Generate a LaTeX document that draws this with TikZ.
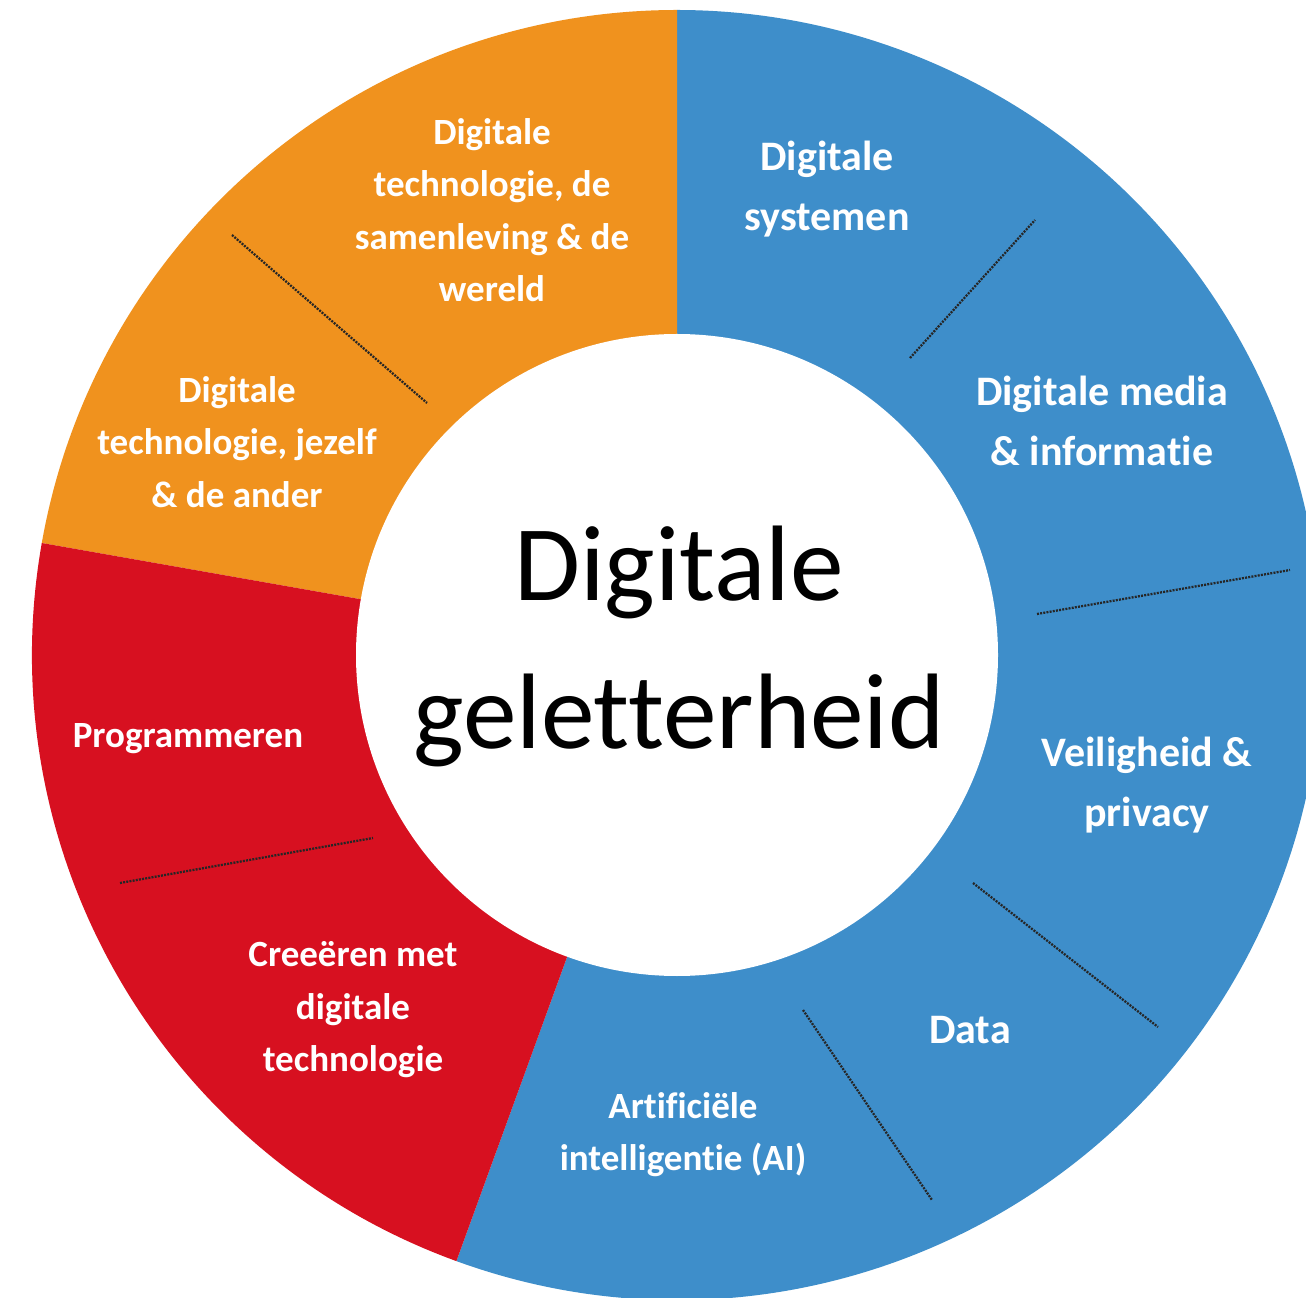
\documentclass[tikz,border=0pt]{standalone}
\usepackage{fontspec}
\setmainfont{Carlito}[Ligatures=NoCommon]
\definecolor{segorange}{RGB}{240,146,30}
\definecolor{segblue}{RGB}{62,142,202}
\definecolor{segred}{RGB}{215,16,32}
\begin{document}
\begin{tikzpicture}[x=0.75pt,y=0.75pt,
  lab/.style={text=white,font=\bfseries\fontsize{27.75}{39.4}\selectfont,align=center,inner sep=0pt},
  labbig/.style={text=white,font=\bfseries\fontsize{31.5}{45}\selectfont,align=center,inner sep=0pt},
  divider/.style={draw=black!85,line width=1.7pt,dash pattern=on 1.5pt off 0.9pt},
  hubtext/.style={text=black,font=\fontsize{80.5}{111}\selectfont,align=center,inner sep=0pt}]
\useasboundingbox (0,0) rectangle (1306,1297);
\clip (0,0) rectangle (1306,1297);
\fill[white] (0,0) rectangle (1306,1297);
\coordinate (C) at (677,642);
% segments
\fill[segblue] (C) -- ++(-110:645) arc[start angle=-110,end angle=90,radius=645] -- cycle;
\fill[segorange] (C) -- ++(90:645) arc[start angle=90,end angle=170,radius=645] -- cycle;
\fill[segred] (C) -- ++(170:645) arc[start angle=170,end angle=250,radius=645] -- cycle;
% inner hub
\fill[white] (C) circle[radius=321];
\node[hubtext] (hub) at (679,651) {Digitale\\geletterheid};
% dividers
\coordinate (d1a) at (910,939);  \coordinate (d1b) at (1035,1077);
\coordinate (d2a) at (1037,683); \coordinate (d2b) at (1290,727);
\coordinate (d3a) at (973,414);  \coordinate (d3b) at (1158,270);
\coordinate (d4a) at (803,287);  \coordinate (d4b) at (932,97);
\coordinate (d5a) at (232,1062); \coordinate (d5b) at (427,894);
\coordinate (d6a) at (120,414);  \coordinate (d6b) at (373,459);
\draw[divider] (d1a) -- (d1b);
\draw[divider] (d2a) -- (d2b);
\draw[divider] (d3a) -- (d3b);
\draw[divider] (d4a) -- (d4b);
\draw[divider] (d5a) -- (d5b);
\draw[divider] (d6a) -- (d6b);
% labels
\node[labbig] (sys) at (827,1108) {Digitale\\systemen};
\node[labbig] (media) at (1102,876) {Digitale media\\\& informatie};
\node[labbig] (veil) at (1147,512) {Veiligheid \&\\privacy};
\node[labbig] (data) at (970,267) {Data};
\node[lab] (ai) at (683,162.5) {Artificiële\\intelligentie (AI)};
\node[lab] (creeer) at (353,287) {Creeëren met\\digitale\\technologie};
\node[lab] (prog) at (188,558) {Programmeren};
\node[lab] (jezelf) at (237,855) {Digitale\\technologie, jezelf\\\& de ander};
\node[lab] (samen) at (492,1087) {Digitale\\technologie, de\\samenleving \& de\\wereld};
\end{tikzpicture}
\end{document}
